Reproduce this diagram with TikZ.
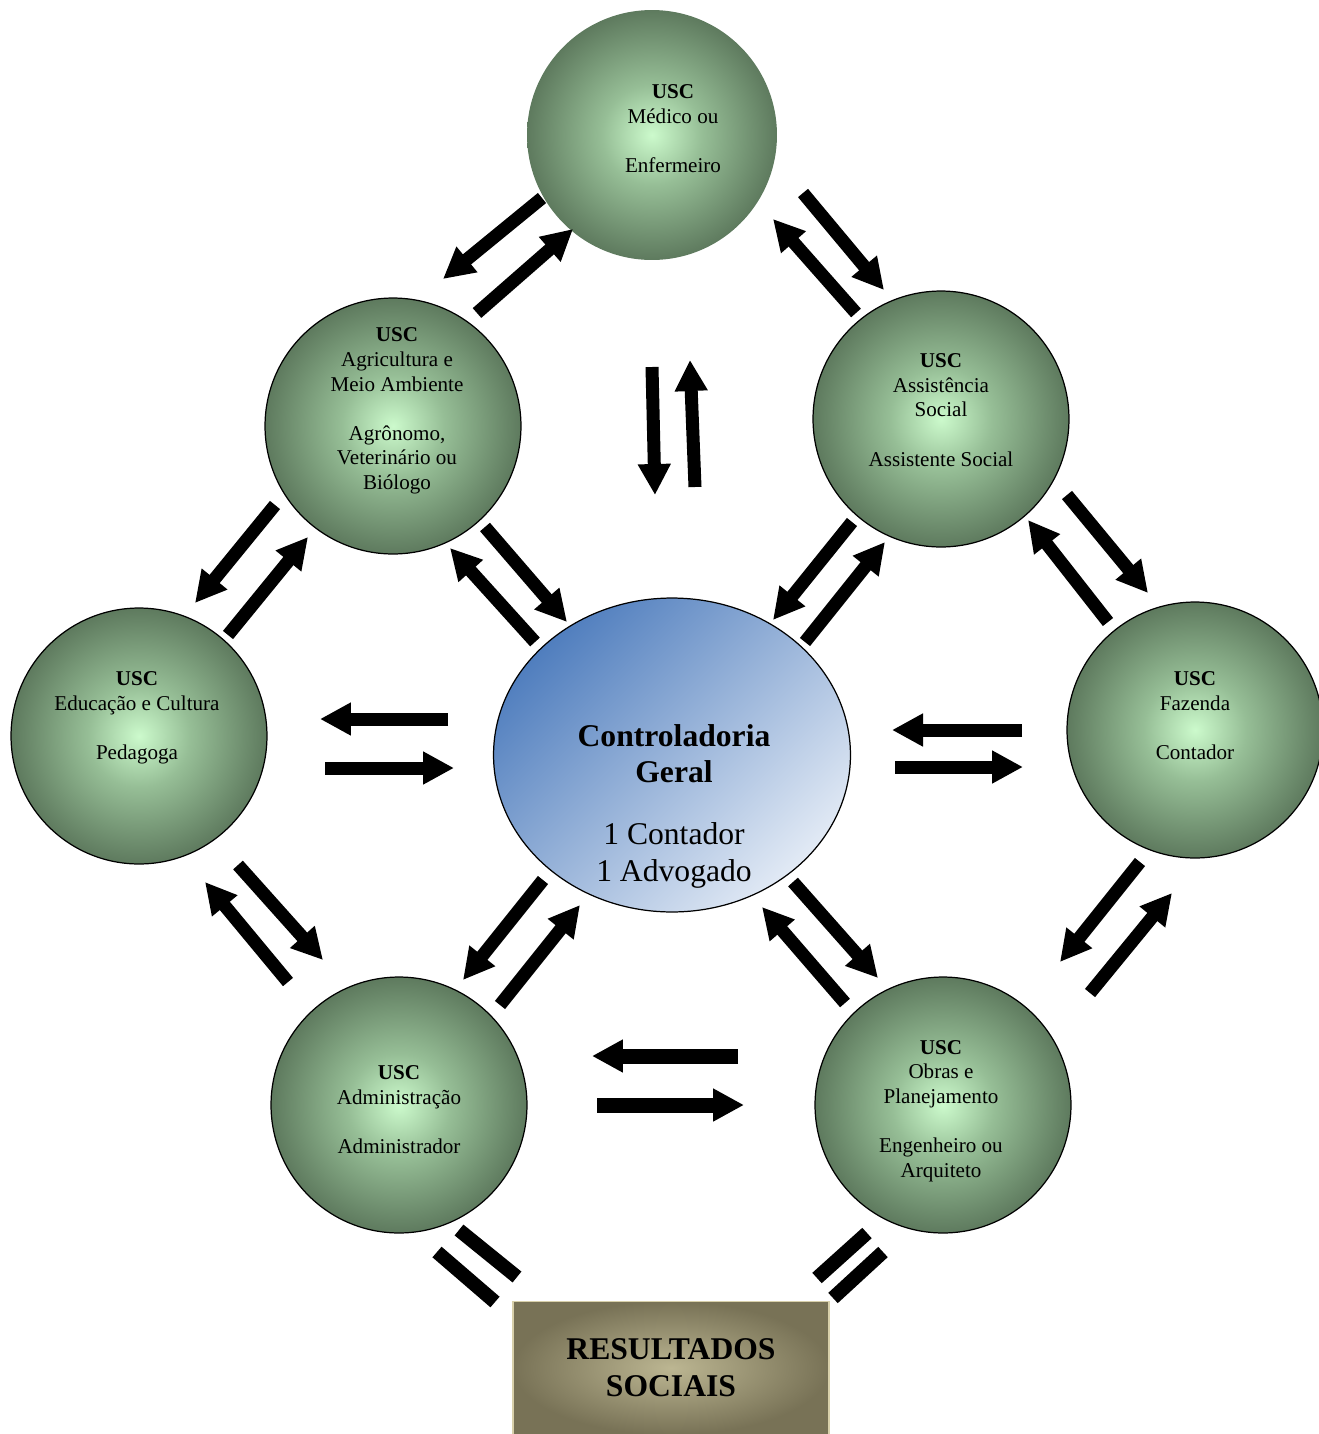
\documentclass[tikz,border=0pt]{standalone}
\usepackage{fontspec}
\setmainfont{Liberation Serif}
\usepackage{xcolor}
\usetikzlibrary{arrows.meta, shapes.geometric}

\definecolor{usclight}{RGB}{204,250,204}
\definecolor{uscmid}{RGB}{150,190,150}
\definecolor{uscdark}{RGB}{94,122,94}
\definecolor{ctrltop}{RGB}{80,126,190}
\definecolor{ctrlbot}{RGB}{226,234,245}
\definecolor{resin}{RGB}{188,182,146}
\definecolor{resout}{RGB}{120,114,86}
\definecolor{resline}{RGB}{216,208,170}

\pgfdeclareradialshading{uscshade}{\pgfpoint{0bp}{0bp}}{%
  color(0bp)=(usclight); color(10bp)=(uscmid); color(25bp)=(uscdark); color(50bp)=(uscdark)}

\tikzset{
  uscnode/.style={circle, draw=black, line width=0.7pt, shading=uscshade,
                  minimum size=5.12cm, inner sep=0pt},
  usctext/.style={align=center, font=\fontsize{12}{14}\selectfont},
  ctrlnode/.style={ellipse, draw=black, line width=0.7pt, top color=ctrltop,
                   bottom color=ctrlbot, shading angle=45,
                   minimum width=7.14cm, minimum height=6.28cm, inner sep=0pt},
  ctrltext/.style={align=center, font=\fontsize{18}{20.8}\selectfont},
  resbox/.style={rectangle, draw=resline, line width=1pt, inner color=resin,
                 outer color=resout, minimum width=6.32cm, minimum height=2.66cm,
                 align=center, font=\fontsize{18}{21}\selectfont\bfseries},
  blockarr/.style={-{Triangle[length=0.62cm, width=0.62cm]}, line width=0.26cm},
  barline/.style={line width=0.28cm},
}

\begin{document}
\begin{tikzpicture}[x=0.02cm, y=-0.02cm]

  \useasboundingbox (0,0) rectangle (1319,1434);
  \clip (0,0) rectangle (1319,1434);

  \node[uscnode, draw=none, minimum size=5.0cm] (med) at (652,135) {};
  \node[uscnode] (agri)   at (393,426)  {};
  \node[uscnode] (assist) at (941,419)  {};
  \node[uscnode] (edu)    at (139,736)  {};
  \node[uscnode] (faz)    at (1195,730) {};
  \node[uscnode] (adm)    at (399,1105) {};
  \node[uscnode] (obras)  at (943,1105) {};
  \node[ctrlnode] (ctrl)  at (672,755)  {};
  \node[resbox] (res)     at (671,1368) {RESULTADOS\\SOCIAIS};

  \node[usctext] (medtxt) at ([xshift=0.42cm, yshift=0.12cm]med.center)
    {\textbf{USC}\\Médico ou\\[14pt]Enfermeiro};
  \node[usctext] (agritxt) at ([xshift=0.08cm, yshift=0.3cm]agri.center)
    {\textbf{USC}\\Agricultura e\\Meio Ambiente\\[14pt]Agrônomo,\\Veterinário ou\\Biólogo};
  \node[usctext] (assisttxt) at ([yshift=0.18cm]assist.center)
    {\textbf{USC}\\Assistência\\Social\\[14pt]Assistente Social};
  \node[usctext] (edutxt) at ([xshift=-0.04cm, yshift=0.36cm]edu.center)
    {\textbf{USC}\\Educação e Cultura\\[14pt]Pedagoga};
  \node[usctext] (faztxt) at ([yshift=0.28cm]faz.center)
    {\textbf{USC}\\Fazenda\\[14pt]Contador};
  \node[usctext] (admtxt) at ([yshift=-0.1cm]adm.center)
    {\textbf{USC}\\Administração\\[14pt]Administrador};
  \node[usctext] (obrastxt) at ([xshift=-0.04cm, yshift=-0.12cm]obras.center)
    {\textbf{USC}\\Obras e\\Planejamento\\[14pt]Engenheiro ou\\Arquiteto};
  \node[ctrltext] (ctrltxt) at ([xshift=0.04cm, yshift=-1.02cm]ctrl.center)
    {\textbf{Controladoria}\\\textbf{Geral}\\[14.5pt]1 Contador\\1 Advogado};

  \draw[blockarr] (542,198)  -- (443,279);
  \draw[blockarr] (477,313)  -- (573,229);
  \draw[blockarr] (803,193)  -- (884,290);
  \draw[blockarr] (856,313)  -- (773,219);
  \draw[blockarr] (652,367)  -- (655,495);
  \draw[blockarr] (695,487)  -- (690,360);
  \draw[blockarr] (275,505)  -- (195,603);
  \draw[blockarr] (228,635)  -- (308,537);
  \draw[blockarr] (485,527)  -- (567,622);
  \draw[blockarr] (535,642)  -- (450,548);
  \draw[blockarr] (852,522)  -- (773,620);
  \draw[blockarr] (805,642)  -- (885,542);
  \draw[blockarr] (1067,495) -- (1148,593);
  \draw[blockarr] (1108,622) -- (1028,520);
  \draw[blockarr] (448,719)  -- (320,719);
  \draw[blockarr] (325,768)  -- (454,768);
  \draw[blockarr] (1022,730) -- (892,730);
  \draw[blockarr] (895,767)  -- (1023,767);
  \draw[blockarr] (238,865)  -- (323,960);
  \draw[blockarr] (288,982)  -- (205,882);
  \draw[blockarr] (543,880)  -- (463,980);
  \draw[blockarr] (500,1005) -- (580,905);
  \draw[blockarr] (793,882)  -- (878,978);
  \draw[blockarr] (845,1003) -- (762,907);
  \draw[blockarr] (1140,862) -- (1060,962);
  \draw[blockarr] (1090,993) -- (1172,893);
  \draw[blockarr, line width=0.3cm] (738,1056) -- (592,1056);
  \draw[blockarr, line width=0.3cm] (597,1105) -- (744,1105);

  \draw[barline] (459,1230) -- (517,1277);
  \draw[barline] (437,1252) -- (495,1302);
  \draw[barline] (867,1233) -- (817,1278);
  \draw[barline] (883,1252) -- (833,1298);

\end{tikzpicture}
\end{document}
